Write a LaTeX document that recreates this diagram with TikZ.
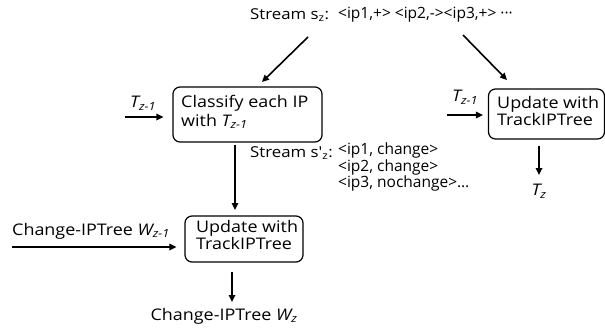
\documentclass[tikz,border=0pt]{standalone}
\usepackage{fontspec}
\setmainfont{Open Sans}
\newfontfamily\widefont[FakeStretch=1.12]{Open Sans}
\usetikzlibrary{arrows.meta}
\newcommand\sub[1]{\textsubscript{#1}}
\begin{document}
\begin{tikzpicture}[x=1pt,y=-1pt,
  box/.style={draw, line width=1.2pt, rounded corners=7pt, inner sep=0pt},
  arr/.style={line width=1.6pt, -{Triangle[length=7pt,width=6.5pt]}},
  lbl/.style={inner sep=0pt, font=\fontsize{15.5}{14.5}\selectfont},
  big/.style={inner sep=0pt, font=\widefont\fontsize{16}{17}\selectfont},
  txt/.style={big, align=left, anchor=west}]
\useasboundingbox (0,0) rectangle (605,327);
% top stream
\node[big, anchor=west, font=\widefont\fontsize{15}{17}\selectfont] (sz) at (250,15) {Stream s\sub{z}:};
\node[lbl, anchor=west] (szl) at (338,15) {{<}ip1,+{>} {<}ip2,-{>}{<}ip3,+{>} ···};
% boxes
\node[box, minimum width=149pt, minimum height=55pt] (cls) at (247.5,114.5) {};
\node[txt, font=\widefont\fontsize{16}{19}\selectfont] (clst) at (181,112) {Classify each IP\\with \textit{T\sub{z-1}}};
\node[box, minimum width=116pt, minimum height=50pt] (upr) at (546.5,114) {};
\node[txt] (uprt) at (497,111) {Update with\\TrackIPTree};
\node[box, minimum width=118pt, minimum height=46pt] (upl) at (244,239) {};
\node[txt] (uplt) at (196,235) {Update with\\TrackIPTree};
% stream s'z
\node[big, anchor=west, font=\widefont\fontsize{15}{17}\selectfont] (szp) at (250,153) {Stream s'\sub{z}:};
\node[lbl, anchor=west, align=left] (lst) at (338,167) {{<}ip1, change{>}\\{<}ip2, change{>}\\{<}ip3, nochange{>}…};
% labels
\node[big] (tl) at (143,103) {\textit{T\sub{z-1}}};
\node[big] (tr) at (465,97) {\textit{T\sub{z-1}}};
\node[big] (tz) at (539,191) {\textit{T\sub{z}}};
\node[big] (wl) at (91,231) {Change-IPTree \textit{W\sub{z-1}}};
\node[big] (wz) at (224,316) {Change-IPTree \textit{W\sub{z}}};
% coordinates
\coordinate (a1s) at (308,37); \coordinate (a1e) at (262,82);
\coordinate (a2s) at (463,35); \coordinate (a2e) at (507,80);
\coordinate (inL) at (125,117); \coordinate (inR) at (447,115);
\coordinate (inW) at (12,247);
\coordinate (tze) at (539,175);
\coordinate (m1) at (235,142); \coordinate (m2) at (235,210);
\coordinate (wzs) at (232,263); \coordinate (wze) at (232,302);
% arrows
\draw[arr] (a1s) -- (a1e);
\draw[arr] (a2s) -- (a2e);
\draw[arr, shorten >=9pt] (inL) -- (inL -| cls.west);
\draw[arr, shorten >=5pt] (inR) -- (inR -| upr.west);
\draw[arr, shorten >=8pt] (inW) -- (inW -| upl.west);
\draw[arr, shorten <=6pt] (upr.south -| tze) -- (tze);
\draw[arr, shorten <=3pt] (m1) -- (m2);
\draw[arr, shorten <=9pt] (wzs) -- (wze);
\end{tikzpicture}
\end{document}
